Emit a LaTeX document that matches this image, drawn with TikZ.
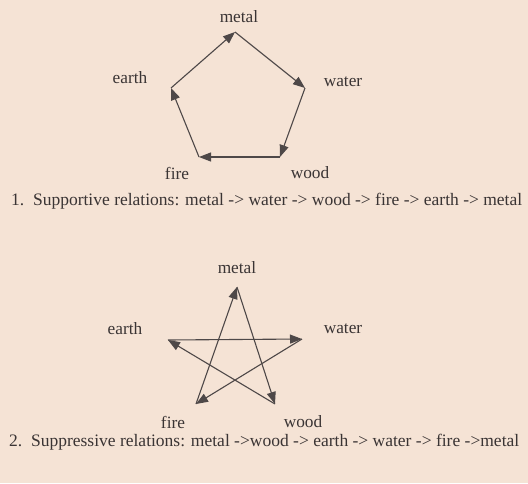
\documentclass[tikz,border=0pt]{standalone}
\usepackage{fontspec}
\setmainfont{Liberation Serif}
\usetikzlibrary{arrows.meta}
\definecolor{paper}{RGB}{245,227,213}
\definecolor{ink}{RGB}{58,52,52}
\definecolor{pen}{RGB}{78,72,72}
\begin{document}
\begin{tikzpicture}[x=1pt,y=-1pt,
  elem/.style={text=ink,font=\fontsize{17.3}{20}\selectfont,inner sep=0pt},
  caption/.style={text=ink,font=\fontsize{17.5}{20}\selectfont,inner sep=0pt,anchor=base west},
  rel/.style={draw=pen,line width=1.1pt,-{Triangle[length=12pt,width=9pt]}}]
\fill[paper] (0,0) rectangle (528,483);
\useasboundingbox (0,0) rectangle (528,483);

% Supportive cycle
\coordinate (sMetal) at (235,32);
\coordinate (sWater) at (305,88);
\coordinate (sWood) at (280,157);
\coordinate (sFire) at (199,157);
\coordinate (sEarth) at (171,88);
\node[elem] (lMetal) at (239,17) {metal};
\node[elem] (lWater) at (343,82) {water};
\node[elem] (lWood) at (310,173) {wood};
\node[elem] (lFire) at (177,173) {fire};
\node[elem] (lEarth) at (130,78) {earth};

\draw[rel] (sMetal) -- (sWater);
\draw[rel] (sWater) -- (sWood);
\draw[rel] (sWood) -- (sFire);
\draw[rel] (sFire) -- (sEarth);
\draw[rel] (sEarth) -- (sMetal);

\node[caption] (capA) at (11,205) {1.\ \ Supportive relations: metal -> water -> wood -> fire -> earth -> metal};

% Suppressive star
\coordinate (pMetal) at (237,287);
\coordinate (pWater) at (302,339);
\coordinate (pWood) at (275,404);
\coordinate (pFire) at (196,404);
\coordinate (pEarth) at (168,340);
\node[elem] (qMetal) at (237,268) {metal};
\node[elem] (qWater) at (343,329) {water};
\node[elem] (qWood) at (303,422) {wood};
\node[elem] (qFire) at (173,422) {fire};
\node[elem] (qEarth) at (125,329) {earth};

\draw[rel] (pMetal) -- (pWood);
\draw[rel] (pWood) -- (pEarth);
\draw[rel] (pEarth) -- (pWater);
\draw[rel] (pWater) -- (pFire);
\draw[rel] (pFire) -- (pMetal);

\node[caption] (capB) at (9,446) {2.\ \ Suppressive relations: metal ->wood -> earth -> water -> fire ->metal};
\end{tikzpicture}
\end{document}
